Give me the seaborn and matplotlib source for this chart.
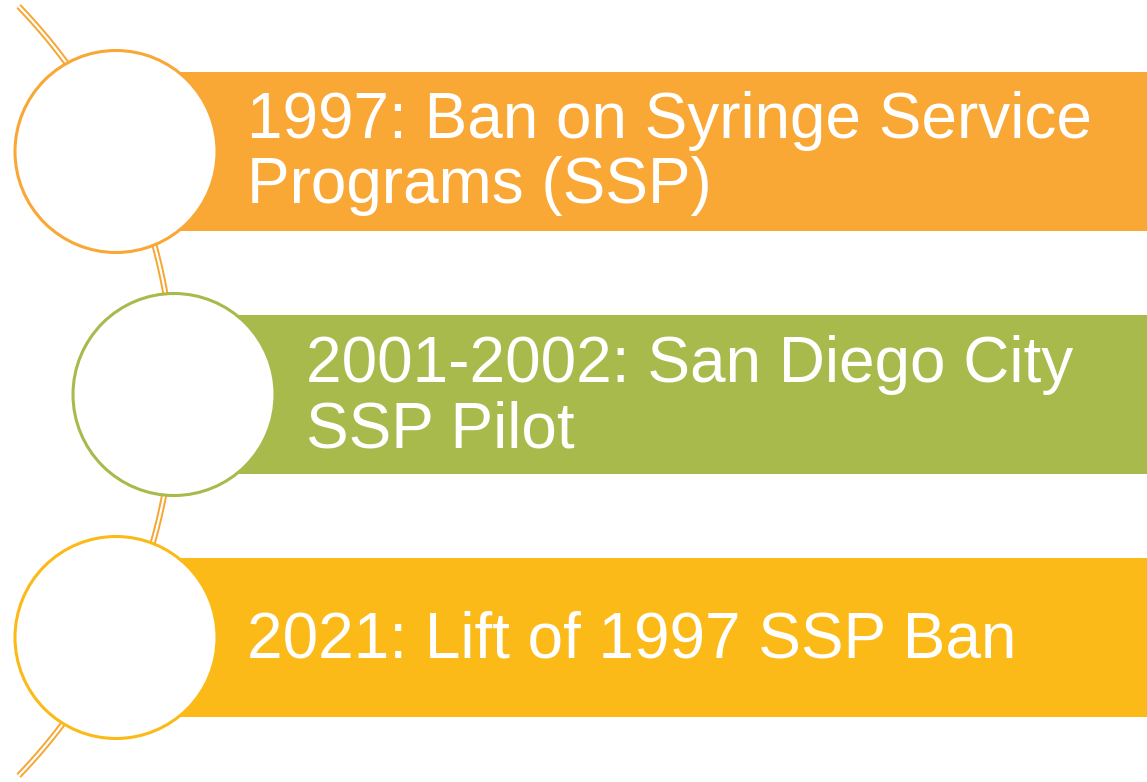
"""
Timeline of syringe service programme policy, drawn as three coloured
bands hanging off a curved spine, each band tagged by an open circle.
"""

import numpy as np
import matplotlib
matplotlib.use("Agg")
import matplotlib.pyplot as plt
from matplotlib.patches import Circle
import seaborn as sns

sns.set_theme(style="white")
plt.rcParams["font.family"] = ["Liberation Sans", "DejaVu Sans"]

# ---- data ----
events = ["1997", "2001-2002", "2021"]
label_lines = [
    ["1997: Ban on Syringe Service", "Programs (SSP)"],
    ["2001-2002: San Diego City", "SSP Pilot"],
    ["2021: Lift of 1997 SSP Ban"],
]
band_colors = ["#F9A735", "#A8BA4B", "#FCBA19"]
spine_color = "#F6A631"

# ---- layout (pixels, y downwards) ----
W, H = 1147, 782
band_top = [72, 315, 558]
band_h = 159
circle_cx = [116, 174, 116]
circle_r = 101
text_x = [247, 306, 247]
first_baseline = [138, 382, 657]
line_step = 65

fig = plt.figure(figsize=(W / 100, H / 100), dpi=100)
ax = fig.add_axes([0, 0, 1, 1])
ax.set_xlim(0, W)
ax.set_ylim(H, 0)
ax.axis("off")

# curved spine: double line (orange rim, white core)
cx, cy, R = -380, 391, 554
a0 = np.arctan2(5 - cy, 20 - cx)
a1 = np.arctan2(777 - cy, 20 - cx)
t = np.linspace(a0, a1, 400)
ax.plot(cx + R * np.cos(t), cy + R * np.sin(t), color=spine_color, lw=4.4,
        solid_capstyle="butt", zorder=1)
ax.plot(cx + R * np.cos(t), cy + R * np.sin(t), color="white", lw=1.6,
        solid_capstyle="butt", zorder=1.1)

for i, ev in enumerate(events):
    ax.barh(band_top[i] + band_h / 2, W - circle_cx[i], height=band_h,
            left=circle_cx[i], color=band_colors[i], edgecolor="none", zorder=2)
    ax.add_patch(Circle((circle_cx[i], band_top[i] + band_h / 2), circle_r,
                        facecolor="white", edgecolor=band_colors[i], lw=2.2, zorder=3))
    for j, line in enumerate(label_lines[i]):
        ax.text(text_x[i], first_baseline[i] + j * line_step, line, color="white",
                fontsize=46, ha="left", va="baseline", zorder=4)

fig.savefig("out.png", dpi=100)
